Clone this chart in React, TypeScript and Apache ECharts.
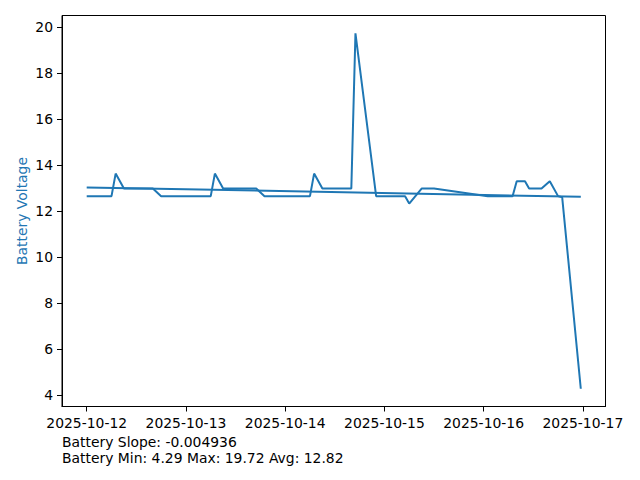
import React, { useEffect, useRef } from "react";
import * as echarts from "echarts";

const COLOR = "#1f77b4";
const FONT = "DejaVu Sans";

// Timestamps (UTC) and battery voltage readings
const times = [
  "2025-10-12T00:00", "2025-10-12T06:00", "2025-10-12T07:00", "2025-10-12T09:00",
  "2025-10-12T16:00", "2025-10-12T18:00", "2025-10-13T06:00", "2025-10-13T07:00",
  "2025-10-13T09:00", "2025-10-13T17:00", "2025-10-13T19:00", "2025-10-14T06:00",
  "2025-10-14T07:00", "2025-10-14T09:00", "2025-10-14T16:00", "2025-10-14T17:00",
  "2025-10-14T22:00", "2025-10-15T05:00", "2025-10-15T06:00", "2025-10-15T09:00",
  "2025-10-15T12:00", "2025-10-16T01:00", "2025-10-16T07:00", "2025-10-16T08:00",
  "2025-10-16T10:00", "2025-10-16T11:00", "2025-10-16T14:00", "2025-10-16T16:00",
  "2025-10-16T18:00", "2025-10-16T19:00", "2025-10-16T23:30",
];
const voltages = [
  12.65, 12.65, 13.63, 12.98,
  12.98, 12.65, 12.65, 13.63,
  12.98, 12.98, 12.65, 12.65,
  13.63, 12.98, 12.98, 19.72,
  12.65, 12.65, 12.33, 12.98,
  12.98, 12.65, 12.65, 13.3,
  13.3, 12.98, 12.98, 13.3,
  12.65, 12.6, 4.29,
];

// Trend line (linear fit) endpoints
const trendTimes = ["2025-10-12T00:00", "2025-10-16T23:30"];
const trendValues = [13.03, 12.62];

const xTickLabels = ["2025-10-12", "2025-10-13", "2025-10-14", "2025-10-15", "2025-10-16", "2025-10-17"];
const yTickValues = [4, 6, 8, 10, 12, 14, 16, 18, 20];

const yAxisName = "Battery Voltage";
const slopeText = "Battery Slope: -0.004936";
const statsText = "Battery Min: 4.29 Max: 19.72 Avg: 12.82";

const toMs = (t: string) => Date.parse(t + ":00Z");

export default function App() {
  const ref = useRef<HTMLDivElement>(null);

  useEffect(() => {
    document.body.style.margin = "0";
    if (!ref.current) return;
    const chart = echarts.init(ref.current, undefined, { renderer: "svg" });

    const xs = times.map(toMs);
    const xMinD = Math.min(...xs);
    const xMaxD = Math.max(...xs);
    const xPad = (xMaxD - xMinD) * 0.05;
    const yMinD = Math.min(...voltages);
    const yMaxD = Math.max(...voltages);
    const yPad = (yMaxD - yMinD) * 0.05;

    const xTickValues = xTickLabels.map((d) => Date.parse(d + "T00:00:00Z"));

    chart.setOption({
      animation: false,
      backgroundColor: "#fff",
      grid: {
        left: 62,
        right: 34.5,
        top: 15.5,
        bottom: 73.5,
        show: true,
        borderColor: "#000",
        borderWidth: 1,
        backgroundColor: "transparent",
      },
      xAxis: {
        type: "value",
        min: xMinD - xPad,
        max: xMaxD + xPad,
        splitLine: { show: false },
        axisLine: { show: true, lineStyle: { color: "#000", width: 1 } },
        axisTick: {
          show: true,
          length: 5,
          inside: false,
          customValues: xTickValues,
          lineStyle: { color: "#000", width: 1 },
        },
        axisLabel: {
          show: true,
          customValues: xTickValues,
          margin: 9,
          color: "#000",
          fontFamily: FONT,
          fontSize: 13.9,
          formatter: (v: number) => {
            const i = xTickValues.indexOf(v);
            return i >= 0 ? xTickLabels[i] : "";
          },
        },
      },
      yAxis: {
        type: "value",
        min: yMinD - yPad,
        max: yMaxD + yPad,
        splitLine: { show: false },
        axisLine: { show: true, lineStyle: { color: "#000", width: 1 } },
        axisTick: {
          show: true,
          length: 5,
          inside: false,
          customValues: yTickValues,
          lineStyle: { color: "#000", width: 1 },
        },
        axisLabel: {
          show: true,
          customValues: yTickValues,
          margin: 9,
          color: "#000",
          fontFamily: FONT,
          fontSize: 13.9,
          formatter: (v: number) => String(Math.round(v)),
        },
        name: yAxisName,
        nameLocation: "middle",
        nameGap: 33,
        nameRotate: 90,
        nameMoveOverlap: false,
        nameTextStyle: { color: COLOR, fontFamily: FONT, fontSize: 13.9 },
      },
      series: [
        {
          type: "line",
          data: xs.map((x, i) => [x, voltages[i]]),
          showSymbol: false,
          symbol: "none",
          lineStyle: { color: COLOR, width: 2 },
          itemStyle: { color: COLOR },
          z: 3,
        },
        {
          type: "line",
          data: trendTimes.map((t, i) => [toMs(t), trendValues[i]]),
          showSymbol: false,
          symbol: "none",
          lineStyle: { color: COLOR, width: 2 },
          itemStyle: { color: COLOR },
          z: 2,
        },
      ],
      graphic: [
        {
          type: "text",
          left: 62,
          top: 435,
          style: { text: slopeText, fill: "#000", font: `13.9px "${FONT}"` },
        },
        {
          type: "text",
          left: 62,
          top: 451,
          style: { text: statsText, fill: "#000", font: `13.9px "${FONT}"` },
        },
      ],
    });

    return () => chart.dispose();
  }, []);

  return <div ref={ref} style={{ width: 640, height: 480 }} />;
}
